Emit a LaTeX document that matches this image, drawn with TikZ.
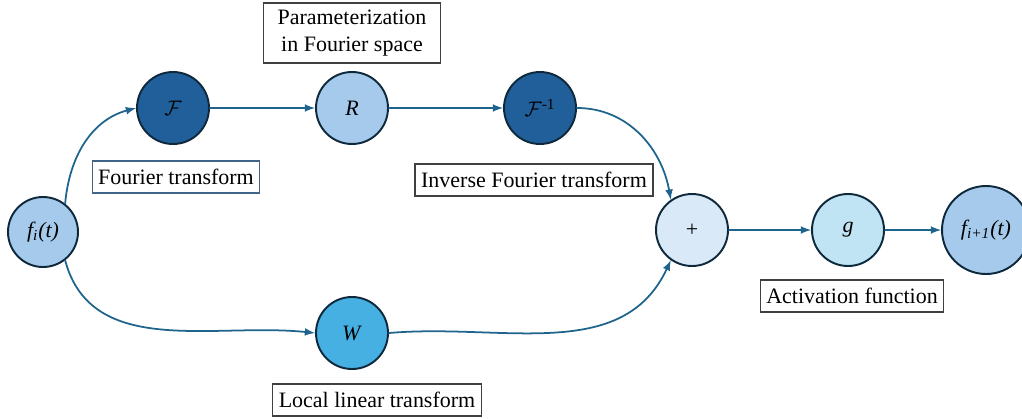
\documentclass[tikz,border=0pt]{standalone}
\usepackage{fontspec}
\setmainfont{Liberation Serif}
\usetikzlibrary{arrows}

\begin{document}
\begin{tikzpicture}[cap=round]
  % Colors
  \definecolor{edgeblue}{RGB}{31,100,140}
  \definecolor{darkfill}{RGB}{33,95,154}
  \definecolor{lightfill}{RGB}{166,202,236}
  \definecolor{plusfill}{RGB}{218,233,248}
  \definecolor{gfill}{RGB}{193,228,245}
  \definecolor{wfill}{RGB}{71,176,226}
  \definecolor{ringcol}{RGB}{14,40,60}
  \definecolor{boxblue}{RGB}{65,100,135}

  % Styles
  \tikzstyle{op}=[circle,draw=ringcol,line width=1.1pt,minimum size=1.44cm,inner sep=0pt,
    font=\fontsize{12.5}{15}\selectfont]
  \tikzstyle{label box}=[draw=black!75,line width=0.6pt,inner xsep=3.5pt,minimum height=0.64cm,
    font=\fontsize{12.5}{15}\selectfont]
  \tikzstyle{flow}=[-latex,draw=edgeblue,line width=1pt]

  % The graphic
  \useasboundingbox (0,0) rectangle (20.44,8.36);

  \node[op,fill=lightfill,minimum size=1.40cm] (fi) at (0.86,3.72) {\textit{f\textsubscript{i}(t)}};
  \node[op,fill=darkfill] (F) at (3.46,6.20) {$\mathcal{F}$};
  \node[op,fill=lightfill] (R) at (7.04,6.20) {\textit{R}};
  \node[op,fill=darkfill] (Finv) at (10.80,6.20) {$\mathcal{F}$\textsuperscript{-1}};
  \node[op,fill=wfill] (W) at (7.04,1.70) {\textit{W}};
  \node[op,fill=plusfill] (plus) at (13.84,3.76) {+};
  \node[op,fill=gfill] (g) at (16.96,3.76) {\textit{g}};
  \node[op,fill=lightfill,minimum size=1.76cm] (fout) at (19.72,3.76) {\textit{f\textsubscript{i+1}(t)}};

  \node[label box,align=center,minimum width=3.54cm,minimum height=1.2cm] (param) at (7.04,7.70)
    {Parameterization\\in Fourier space};
  \node[label box,draw=boxblue] (ft) at (3.52,4.82) {Fourier transform};
  \node[label box] (ift) at (10.68,4.76) {Inverse Fourier transform};
  \node[label box] (act) at (17.04,2.44) {Activation function};
  \node[label box] (llt) at (7.54,0.36) {Local linear transform};

  \draw[flow] (fi.52) to[out=85,in=195] (F.west);
  \draw[flow] (fi.-52) to[out=-75,in=174] (W.west);
  \draw[flow] (F) -- (R);
  \draw[flow] (R) -- (Finv);
  \draw[flow] (Finv.east) to[out=0,in=100] (plus.125);
  \draw[flow] (W.east) to[out=5,in=245] (plus.235);
  \draw[flow] (plus) -- (g);
  \draw[flow] (g) -- (fout);
\end{tikzpicture}
\end{document}
